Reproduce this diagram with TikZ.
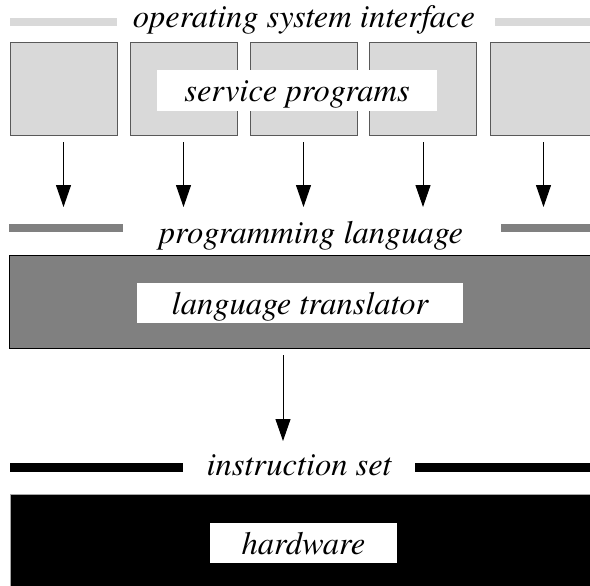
\documentclass[tikz,border=0pt]{standalone}
\usepackage{fontspec}
\setmainfont{texgyretermes}[Extension=.otf, UprightFont=*-regular, ItalicFont=*-italic, BoldFont=*-bold, BoldItalicFont=*-bolditalic]
\usetikzlibrary{arrows.meta,positioning}

\tikzset{
	layer text/.style={font=\fontsize{32.5}{38}\selectfont\itshape, inner sep=0pt},
	label box/.style={layer text, fill=white, text height=22pt, text depth=0pt},
	prog box/.style={draw=black!65, fill=black!15, line width=0.8pt, minimum width=107pt, minimum height=93pt, inner sep=0pt},
	flow/.style={-{Triangle[length=22pt,width=15pt]}, line width=1pt},
}

\begin{document}
\begin{tikzpicture}[x=1pt,y=-1pt]
	\useasboundingbox (0,0) rectangle (590,586);
	\clip (0,0) rectangle (590,586);

	% operating system interface
	\draw[line width=8pt, color=black!15] (10,22) -- (117,22);
	\draw[line width=8pt, color=black!15] (495,22) -- (595,22);
	\node[layer text, anchor=base] (osi) at (304,28) {operating system interface};

	\node[prog box] (b1) at (63.5,88.5) {};
	\node[prog box] (b2) at (183.5,88.5) {};
	\node[prog box] (b3) at (303.5,88.5) {};
	\node[prog box] (b4) at (423,88.5) {};
	\node[prog box] (b5) at (543.5,88.5) {};
	\node[label box, minimum width=280pt, minimum height=41pt] (service) at (297,90.5) {service programs};

	\coordinate (e1) at (63.5,207);
	\coordinate (e2) at (183.5,207);
	\coordinate (e3) at (303.5,207);
	\coordinate (e4) at (423,207);
	\coordinate (e5) at (543.5,207);
	\draw[flow] ([yshift=-7pt]b1.south) -- (e1);
	\draw[flow] ([yshift=-7pt]b2.south) -- (e2);
	\draw[flow] ([yshift=-7pt]b3.south) -- (e3);
	\draw[flow] ([yshift=-7pt]b4.south) -- (e4);
	\draw[flow] ([yshift=-7pt]b5.south) -- (e5);

	% programming language
	\draw[line width=8pt, color=black!50] (9,228) -- (123,228);
	\draw[line width=8pt, color=black!50] (501,228) -- (595,228);
	\node[layer text, anchor=base] (pl) at (311,243) {programming language};

	\node[draw=black, fill=black!50, line width=0.8pt, minimum width=591pt, minimum height=93pt, inner sep=0pt] (trans) at (304.5,301.5) {};
	\node[label box, minimum width=326pt, minimum height=40pt] (translator) at (300,303) {language translator};

	\coordinate (tstart) at (283,355);
	\coordinate (tend) at (283,441);
	\draw[flow] (tstart) -- (tend);

	% instruction set
	\draw[line width=9pt] (10,467.5) -- (183,467.5);
	\draw[line width=9pt] (415,467.5) -- (595,467.5);
	\node[layer text, anchor=base] (is) at (299,475) {instruction set};

	\node[draw=black!35, fill=black, line width=0.8pt, minimum width=590pt, minimum height=106pt, inner sep=0pt] (hw) at (305,547) {};
	\node[label box, minimum width=187pt, minimum height=40pt] (hardware) at (303.5,543) {hardware};
\end{tikzpicture}
\end{document}
